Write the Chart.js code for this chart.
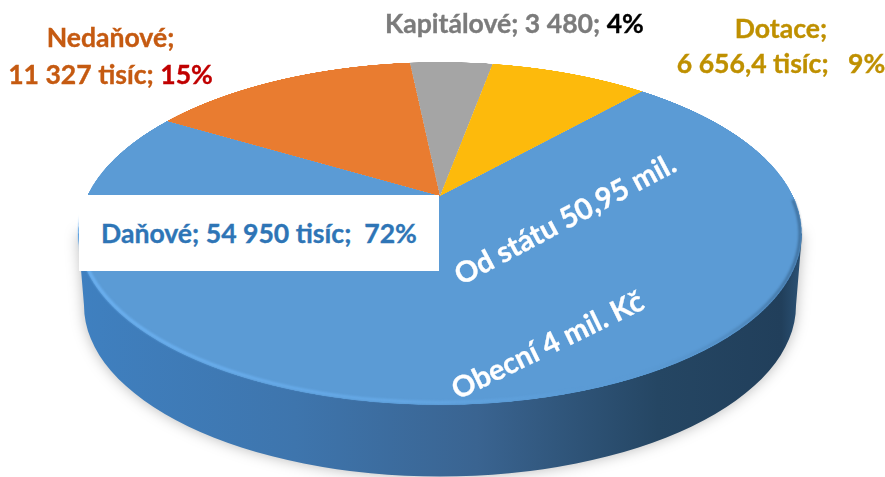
<!DOCTYPE html>
<html lang="cs">
<head>
<meta charset="utf-8">
<title>Příjmy</title>
<script src="https://cdn.jsdelivr.net/npm/chart.js@4"></script>
<style>
    html, body { margin: 0; padding: 0; background: #fff; }
    #wrap { position: relative; width: 885px; height: 477px; overflow: hidden; }
    #wrap canvas { position: absolute; left: 0; top: 0; }
    .lbl {
        position: absolute;
        font-family: Lato, "Open Sans", sans-serif;
        font-weight: 700;
        font-size: 26.6px;
        line-height: 36px;
        white-space: pre;
        text-align: center;
        -webkit-text-stroke: 0.35px currentColor;
    }
    .turned { font-size: 29px; transform-origin: 0 50%; color: #fff; }
    #box { position: absolute; left: 79px; top: 195px; width: 360px; height: 76px; background: #fff; }
</style>
</head>
<body>
<div id="wrap">
    <canvas id="pie" width="885" height="477"></canvas>
    <div id="box"></div>
    <div class="lbl" style="left:0;top:19px;width:221px;line-height:37px;color:#c55a11">Nedaňové;
11 327 tisíc; <span style="color:#c00000">15%</span></div>
    <div class="lbl" style="left:385px;top:5px;color:#7b7b7b">Kapitálové; 3 480; <span style="color:#000">4%</span></div>
    <div class="lbl" style="left:670px;top:11px;width:222px;line-height:35px;color:#bf9000">Dotace;
6 656,4 tisíc;   9%</div>
    <div class="lbl" style="left:101px;top:215px;color:#2e75b6">Daňové; 54 950 tisíc;  72%</div>
    <div class="lbl turned" style="left:456px;top:258px;transform:rotate(-28deg)">Od státu 50,95 mil.</div>
    <div class="lbl turned" style="left:453px;top:372px;transform:rotate(-26deg)">Obecní 4 mil. Kč</div>
</div>
<script>
// Data (thousands of Kč)
const categories = ['Daňové', 'Nedaňové', 'Kapitálové', 'Dotace'];
const values = [54950, 11327, 3480, 6656.4];
const sliceColors = ['#5b9bd5', '#e97c30', '#a5a5a5', '#fdba0c'];

// Shape of the tilted disc on the page
const apexX = 440, apexY = 196;
const tilt = 0.2187, scaleY = 163.3, scaleX = 353;
const ellipseY = 233.5, ellipseRx = 362, ellipseRy = 171;
const depth = 72;

// Side wall of the disc, drawn under the slices
function drawWall(ctx) {
    const grad = ctx.createLinearGradient(78, 0, 803, 0);
    grad.addColorStop(0, '#3f80c0');
    grad.addColorStop(0.3, '#3e75ad');
    grad.addColorStop(0.55, '#3a6491');
    grad.addColorStop(0.8, '#254663');
    grad.addColorStop(0.97, '#213f5b');
    grad.addColorStop(1, '#2c5478');

    ctx.save();
    ctx.shadowColor = 'rgba(0,0,0,0.28)';
    ctx.shadowBlur = 14;
    ctx.fillStyle = grad;
    ctx.beginPath();
    ctx.moveTo(apexX - ellipseRx, ellipseY);
    ctx.lineTo(apexX - ellipseRx + 6, ellipseY + depth);
    ctx.ellipse(apexX, ellipseY + depth, ellipseRx - 6, ellipseRy, 0, Math.PI, 0, true);
    ctx.lineTo(apexX + ellipseRx, ellipseY);
    ctx.closePath();
    ctx.fill();
    ctx.restore();
}

// Light rim on the front edge of the top face
function drawRim(ctx) {
    const light = ctx.createLinearGradient(78, 0, 803, 0);
    light.addColorStop(0, 'rgba(110,180,245,0.9)');
    light.addColorStop(0.45, 'rgba(110,180,245,0.55)');
    light.addColorStop(0.7, 'rgba(110,180,245,0)');
    light.addColorStop(1, 'rgba(20,45,70,0.4)');

    ctx.save();
    ctx.filter = 'blur(1.2px)';
    ctx.strokeStyle = light;
    ctx.lineWidth = 3;
    ctx.beginPath();
    ctx.ellipse(apexX, ellipseY, ellipseRx - 2, ellipseRy - 2, 0, -0.2, Math.PI + 0.1);
    ctx.stroke();
    ctx.restore();
}

// Draws the chart's arcs flat on a spare canvas, then copies them row by row in perspective
const tiltedPie = {
    id: 'tiltedPie',
    beforeDatasetsDraw(chart) {
        const ctx = chart.ctx;
        const arcs = chart.getDatasetMeta(0).data;
        const R = arcs[0].outerRadius;
        const k = 3;
        const size = Math.ceil(2 * R * k);

        const flat = document.createElement('canvas');
        flat.width = size;
        flat.height = size;
        const fctx = flat.getContext('2d');
        fctx.scale(k, k);
        fctx.translate(R - arcs[0].x, R - arcs[0].y);
        arcs.forEach(arc => arc.draw(fctx));

        drawWall(ctx);

        const rowT = y => y / (scaleY + tilt * y);
        for (let y = 62 - apexY; y < 406 - apexY; y++) {
            const t0 = rowT(y), t1 = rowT(y + 1);
            const half = scaleX / (1 - tilt * (t0 + t1) / 2);
            ctx.drawImage(flat, 0, (t0 + 1) * R * k, size, (t1 - t0) * R * k,
                apexX - half, apexY + y, 2 * half, 1);
        }

        drawRim(ctx);
        return false;
    }
};

new Chart(document.getElementById('pie'), {
    type: 'pie',
    data: {
        labels: categories,
        datasets: [{
            data: values,
            backgroundColor: sliceColors,
            borderWidth: 0
        }]
    },
    options: {
        responsive: false,
        animation: false,
        rotation: 41.8,
        plugins: {
            legend: { display: false },
            tooltip: { enabled: false }
        }
    },
    plugins: [tiltedPie]
});
</script>
</body>
</html>
